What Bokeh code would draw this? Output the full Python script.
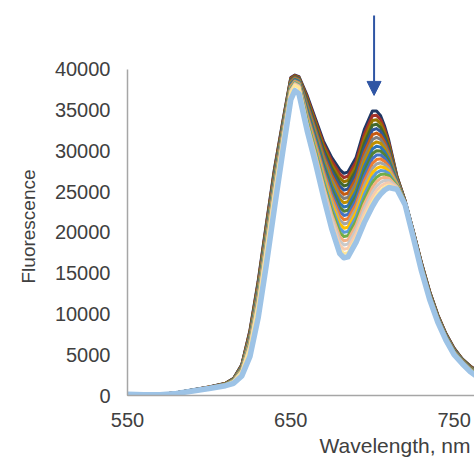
from bokeh.plotting import figure
from bokeh.models import Range1d, FixedTicker, Arrow, NormalHead, Title
from bokeh.embed import file_html
from bokeh.resources import INLINE

# ---------------- data ----------------
wavelength = [550, 560, 570, 580, 590, 600, 610, 615, 620, 625, 630, 635, 640, 645, 650, 652.5,
              655, 660, 665, 670, 675, 680, 682.5, 685, 690, 695, 700, 702.5, 705, 707.5, 710,
              715, 720, 725, 730, 735, 740, 745, 750, 755, 760, 765, 770, 780]

s00 = [150,120,150,350,700,1050,1500,2100,3800,8000,14000,21000,27800,33500,39000,39300,39100,36800,34000,31200,29200,27700,27250,27400,29200,32600,34900,34900,34300,33000,31300,26900,23900,20200,16300,12800,9900,7600,5800,4500,3600,2900,2300,1500]
s01 = [150,120,150,345,690,1040,1490,2080,3750,7890,13840,20830,27630,33370,38900,39230,39030,36590,33730,30860,28770,27190,26730,26880,28680,32030,34320,34360,33820,32610,31010,26820,23880,20160,16250,12750,9860,7560,5760,4470,3570,2870,2270,1480]
s02 = [150,120,145,340,685,1030,1470,2060,3700,7780,13690,20650,27460,33240,38800,39170,38960,36370,33460,30520,28330,26670,26220,26360,28160,31460,33730,33820,33340,32220,30720,26740,23850,20120,16200,12700,9810,7520,5720,4440,3530,2830,2240,1460]
s03 = [150,117,140,335,680,1020,1460,2040,3650,7660,13530,20480,27300,33110,38710,39100,38890,36160,33190,30180,27900,26160,25700,25840,27640,30890,33150,33270,32860,31830,30430,26660,23830,20080,16150,12650,9770,7480,5680,4410,3500,2800,2210,1440]
s04 = [150,116,140,330,670,1010,1440,2020,3600,7550,13370,20300,27130,32980,38610,39030,38820,35940,32920,29840,27460,25640,25180,25320,27120,30320,32560,32730,32380,31440,30140,26580,23800,20040,16100,12600,9720,7440,5640,4380,3460,2760,2180,1420]
s05 = [150,115,140,325,660,1000,1430,2000,3560,7440,13210,20130,26960,32850,38510,38970,38750,35730,32650,29500,27030,25130,24660,24800,26600,29750,31980,32190,31900,31050,29850,26500,23780,20000,16050,12550,9680,7400,5600,4350,3430,2730,2150,1400]
s06 = [150,114,135,320,655,990,1410,1970,3510,7330,13060,19950,26790,32720,38410,38900,38680,35510,32380,29160,26590,24610,24150,24280,26080,29180,31390,31650,31420,30660,29560,26420,23750,19960,16000,12500,9630,7360,5560,4320,3390,2690,2120,1380]
s07 = [150,113,130,315,650,980,1400,1950,3460,7220,12900,19780,26620,32590,38310,38830,38610,35300,32110,28820,26160,24100,23630,23760,25560,28610,30810,31100,30940,30270,29270,26340,23730,19920,15950,12450,9590,7320,5520,4290,3360,2660,2090,1360]
s08 = [150,112,130,310,640,970,1380,1930,3410,7100,12740,19600,26460,32460,38220,38770,38540,35080,31840,28480,25720,23580,23110,23240,25040,28040,30220,30560,30460,29880,28980,26260,23700,19880,15900,12400,9540,7280,5480,4260,3320,2620,2060,1340]
s09 = [150,111,130,305,630,960,1370,1910,3360,6990,12580,19430,26290,32330,38120,38700,38470,34870,31570,28140,25290,23070,22590,22720,24520,27470,29640,30020,29980,29490,28690,26180,23680,19840,15850,12350,9500,7240,5440,4230,3290,2590,2030,1320]
s10 = [150,110,125,300,625,950,1350,1890,3310,6880,12430,19250,26120,32210,38020,38640,38400,34650,31300,27800,24850,22550,22080,22200,24000,26900,29050,29480,29500,29100,28400,26100,23650,19800,15800,12300,9450,7200,5400,4200,3250,2550,2000,1300]
s11 = [150,109,120,295,620,940,1340,1870,3260,6770,12270,19080,25950,32080,37920,38570,38330,34440,31030,27460,24420,22040,21560,21680,23480,26330,28470,28930,29020,28710,28110,26020,23630,19760,15750,12250,9410,7160,5360,4170,3220,2520,1970,1280]
s12 = [150,108,120,290,610,930,1320,1850,3210,6660,12110,18900,25780,31950,37820,38500,38260,34220,30760,27120,23980,21520,21040,21160,22960,25760,27880,28390,28540,28320,27820,25940,23600,19720,15700,12200,9360,7120,5320,4140,3180,2480,1940,1260]
s13 = [150,107,120,285,600,920,1310,1830,3160,6540,11950,18730,25620,31820,37730,38440,38190,34010,30490,26780,23550,21010,20520,20640,22440,25190,27300,27850,28060,27930,27530,25860,23580,19680,15650,12150,9320,7080,5280,4110,3150,2450,1910,1240]
s14 = [150,106,115,280,595,910,1290,1810,3110,6430,11800,18550,25450,31690,37630,38370,38120,33790,30220,26440,23110,20490,20000,20120,21920,24620,26710,27310,27580,27540,27240,25780,23550,19640,15600,12100,9270,7040,5240,4080,3110,2410,1880,1220]
s15 = [150,105,110,275,590,900,1280,1790,3070,6320,11640,18380,25280,31560,37530,38300,38050,33580,29950,26100,22680,19980,19490,19600,21400,24050,26130,26760,27100,27150,26950,25700,23530,19600,15550,12050,9230,7000,5200,4050,3080,2380,1850,1200]
s16 = [150,104,110,270,580,890,1260,1760,3020,6210,11480,18200,25110,31430,37430,38240,37980,33360,29680,25760,22240,19460,18970,19080,20880,23480,25540,26220,26620,26760,26660,25620,23500,19560,15500,12000,9180,6960,5160,4020,3040,2340,1820,1180]
s17 = [150,103,110,265,570,880,1250,1740,2970,6100,11320,18030,24940,31300,37330,38170,37910,33150,29410,25420,21810,18950,18450,18560,20360,22910,24960,25680,26140,26370,26370,25540,23480,19520,15450,11950,9140,6920,5120,3990,3010,2310,1790,1160]
s18 = [150,102,105,260,565,870,1230,1720,2920,5980,11170,17850,24780,31170,37240,38100,37840,32930,29140,25080,21370,18430,17940,18040,19840,22340,24370,25140,25660,25980,26080,25460,23450,19480,15400,11900,9090,6880,5080,3960,2970,2270,1760,1140]
s19 = [150,101,100,255,560,860,1220,1700,2870,5870,11010,17680,24610,31040,37140,38040,37770,32720,28870,24740,20940,17920,17420,17520,19320,21770,23790,24590,25180,25590,25790,25380,23430,19440,15350,11850,9050,6840,5040,3930,2940,2240,1730,1120]
s20 = [150,100,100,250,550,850,1200,1500,2400,4800,9500,16000,23000,29800,36300,37400,37000,32500,28600,24400,20500,17400,16900,17000,18800,21200,23200,24050,24700,25200,25500,25300,23400,19400,15300,11800,9000,6800,5000,3900,2900,2200,1700,1100]

series = [s00, s01, s02, s03, s04, s05, s06, s07, s08, s09, s10,
          s11, s12, s13, s14, s15, s16, s17, s18, s19, s20]

colors = ["#203864", "#A5322A", "#997300", "#43682B", "#2F5597", "#C55A11", "#7F7F7F",
          "#BF9000", "#2E75B6", "#548235", "#4472C4", "#ED7D31", "#A5A5A5", "#FFC000",
          "#5B9BD5", "#70AD47", "#F4B183", "#C9C9C9", "#F8CBAD", "#FFE699", "#9DC3E6"]

widths = [3] * 20 + [5.5]

x_ticks = [550, 650, 750]
y_ticks = [0, 5000, 10000, 15000, 20000, 25000, 30000, 35000, 40000]

x_title = "Wavelength, nm"
y_title = "Fluorescence"

arrow_x = 701
arrow_top = 46600
arrow_tip = 36800

# ---------------- figure ----------------
TEXT = "#404040"
FONT = "Liberation Sans"

p = figure(width=474, height=459, output_backend="svg", toolbar_location=None,
           x_range=Range1d(550, 762.5), y_range=Range1d(0, 48440),
           min_border_left=127, min_border_right=0, min_border_top=0, min_border_bottom=63)
p.outline_line_color = None
p.grid.visible = False
p.background_fill_color = "white"
p.border_fill_color = "white"

for ys, c, lw in zip(series, colors, widths):
    p.line(wavelength, ys, line_color=c, line_width=lw, line_join="round", line_cap="round")

p.xaxis.ticker = FixedTicker(ticks=x_ticks)
p.yaxis.ticker = FixedTicker(ticks=y_ticks)
p.yaxis.bounds = (0, 40000)
p.yaxis.formatter.use_scientific = False
for ax in (p.xaxis, p.yaxis):
    ax.axis_line_color = "#A6A6A6"
    ax.axis_line_width = 1.5
    ax.major_tick_line_color = None
    ax.minor_tick_line_color = None
    ax.major_label_text_font = FONT
    ax.major_label_text_font_size = "20px"
    ax.major_label_text_color = TEXT
    ax.major_label_standoff = 11

p.add_layout(Title(text=x_title, align="right", offset=4, text_font=FONT,
                   text_font_size="21px", text_font_style="normal", text_color=TEXT,
                   standoff=5), "below")
p.add_layout(Title(text=y_title, align="left", offset=112, text_font=FONT,
                   text_font_size="19px", text_font_style="normal", text_color=TEXT,
                   standoff=26), "left")

ac = "#2F55A4"
p.add_layout(Arrow(end=NormalHead(size=14, fill_color=ac, line_color=ac),
                   x_start=arrow_x, y_start=arrow_top, x_end=arrow_x, y_end=arrow_tip,
                   line_color=ac, line_width=2))

open("out.html", "w").write(file_html(p, INLINE))
